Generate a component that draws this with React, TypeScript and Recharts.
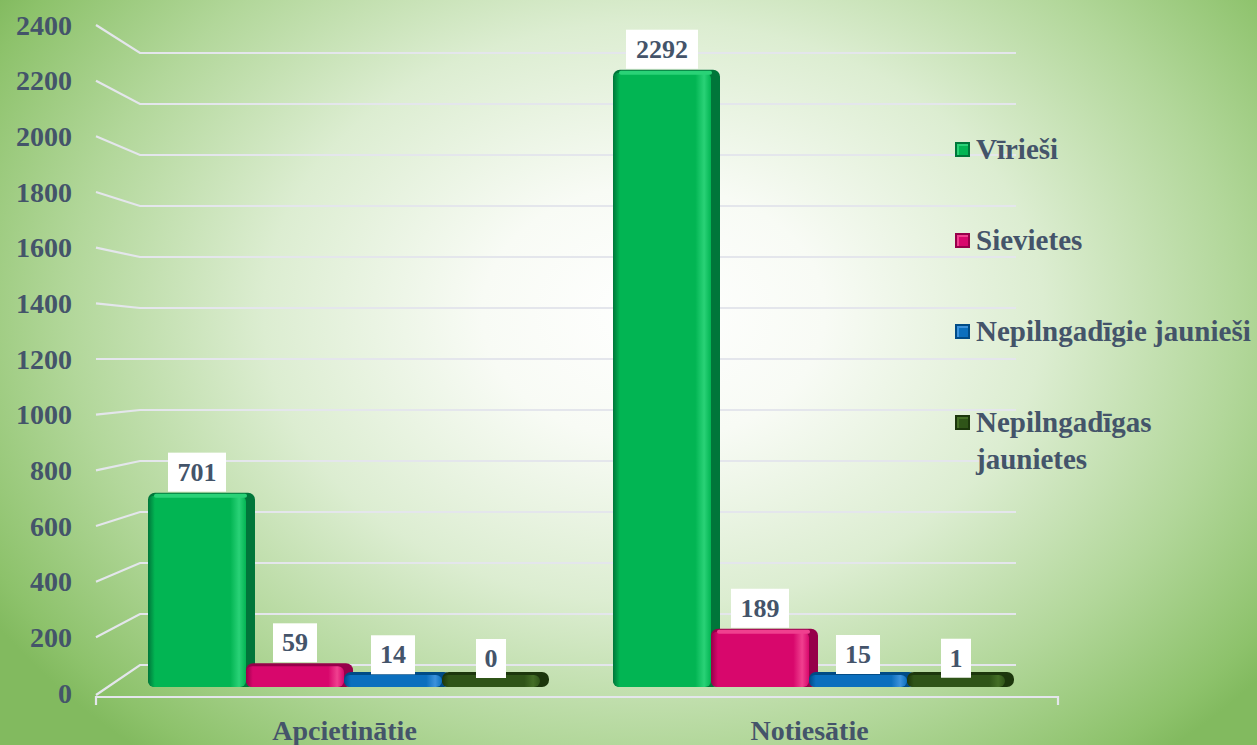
import React from "react";
import { Bar, BarChart, CartesianGrid, LabelList, XAxis, YAxis } from "recharts";

const categories = ["Apcietinātie", "Notiesātie"];
const virieshi = [701, 2292];
const sievietes = [59, 189];
const jaunieshi = [14, 15];
const jaunietes = [0, 1];
const yTicks = [0, 200, 400, 600, 800, 1000, 1200, 1400, 1600, 1800, 2000, 2200, 2400];

const series = [
  { key: "v", name: "Vīrieši", values: virieshi, front: "#02B553", light: "#2AD277", dark: "#00763A" },
  { key: "s", name: "Sievietes", values: sievietes, front: "#D8076C", light: "#F0408F", dark: "#96004A" },
  { key: "j", name: "Nepilngadīgie jaunieši", values: jaunieshi, front: "#0B6FBE", light: "#3C92DC", dark: "#004B86" },
  { key: "n", name: "Nepilngadīgas jaunietes", values: jaunietes, front: "#2F5418", light: "#446E26", dark: "#1C360C" },
];

const data = categories.map((name, i) => {
  const row: any = { name };
  series.forEach((s) => (row[s.key] = s.values[i]));
  return row;
});

// layout of the fake 3d frame
const PLOT_TOP = 49;
const PLOT_BOTTOM = 687;
const BACK_LEFT = 140;
const BACK_RIGHT = 1016;
const BACK_TOP = 53;
const BACK_BOTTOM = 665;
const FRONT_LEFT = 96;
const FRONT_RIGHT = 1058;
const LABEL_TOP = 25;
const LABEL_BOTTOM = 693;

const TEXT = "#44546A";
const FONT = "'Liberation Serif', 'Times New Roman', serif";
const GRID = "#E4E6EC";

const frac = (y: number) => (PLOT_BOTTOM - y) / (PLOT_BOTTOM - PLOT_TOP);

const gridLine = (p: any) => {
  const f = frac(p.y1);
  const by = BACK_BOTTOM - f * (BACK_BOTTOM - BACK_TOP);
  const ly = LABEL_BOTTOM - f * (LABEL_BOTTOM - LABEL_TOP);
  const floor = f < 0.001;
  return (
    <g key={`grid-${p.index}-${p.y1}`}>
      <polyline
        points={`${FRONT_LEFT},${floor ? 695 : ly} ${BACK_LEFT},${by} ${BACK_RIGHT},${by}`}
        fill="none"
        stroke={GRID}
        strokeWidth={2.2}
      />
      {floor && (
        <polyline
          points={`${FRONT_LEFT},705 ${FRONT_LEFT},697 ${FRONT_RIGHT},697 ${FRONT_RIGHT},705`}
          fill="none"
          stroke={GRID}
          strokeWidth={2.2}
        />
      )}
    </g>
  );
};

const YTick = (p: any) => {
  const ly = LABEL_BOTTOM - frac(p.y) * (LABEL_BOTTOM - LABEL_TOP);
  return (
    <text x={72} y={ly} textAnchor="end" dominantBaseline="central" fill={TEXT} fontFamily={FONT} fontWeight="bold" fontSize={28}>
      {p.payload.value}
    </text>
  );
};

const XTick = (p: any) => (
  <text x={p.x} y={p.y + 53} textAnchor="middle" fill={TEXT} fontFamily={FONT} fontWeight="bold" fontSize={28}>
    {p.payload.value}
  </text>
);

function Box3D(props: any) {
  const { x, y, width, height, s } = props;
  if (x == null || y == null) return null;
  const base = y + height;
  const h = Math.max(height + 8, 15);
  const top = base - h;
  const side = 9;
  return (
    <g>
      <rect x={x} y={top} width={width + side} height={h} rx={7} fill={s.dark} />
      <rect x={x} y={top + 3} width={width} height={h - 3} rx={6} fill={`url(#front-${s.key})`} />
      {height > 30 && <rect x={x + 6} y={top + 1} width={width + side - 14} height={4} rx={2} fill={s.light} />}
    </g>
  );
}

function ValueBox(props: any) {
  const { x, y, width, value } = props;
  const text = String(value);
  const w = text.length * 14 + 16;
  const cx = x + width / 2;
  const bottom = y - 9;
  return (
    <g>
      <rect x={cx - w / 2} y={bottom - 39} width={w} height={39} fill="#FFFFFF" />
      <text x={cx} y={bottom - 11} textAnchor="middle" fill={TEXT} fontFamily={FONT} fontWeight="bold" fontSize={26}>
        {text}
      </text>
    </g>
  );
}

export default function App() {
  return (
    <div
      style={{
        position: "absolute",
        left: 0,
        top: 0,
        width: 1257,
        height: 745,
        overflow: "hidden",
        background:
          "radial-gradient(ellipse 62% 78% at 52% 42%, #FFFFFF 0%, #F8FBF5 22%, #DCEDD1 50%, #B2D79A 75%, #8DC26B 95%, #82BA5F 100%)",
      }}
    >
      <BarChart
        width={1257}
        height={745}
        data={data}
        margin={{ top: PLOT_TOP, right: 215, bottom: 0, left: 0 }}
        barCategoryGap={36}
        barGap={0}
      >
        <defs>
          {series.map((s) => (
            <linearGradient key={s.key} id={`front-${s.key}`} x1="0" y1="0" x2="1" y2="0">
              <stop offset="0%" stopColor={s.dark} />
              <stop offset="7%" stopColor={s.front} />
              <stop offset="84%" stopColor={s.front} />
              <stop offset="93%" stopColor={s.light} />
              <stop offset="100%" stopColor={s.front} />
            </linearGradient>
          ))}
        </defs>
        <CartesianGrid horizontal={gridLine} vertical={false} />
        <XAxis dataKey="name" axisLine={false} tickLine={false} tickSize={0} tickMargin={0} height={58} tick={<XTick />} />
        <YAxis
          domain={[0, 2400]}
          ticks={yTicks}
          interval={0}
          width={112}
          axisLine={false}
          tickLine={false}
          tick={<YTick />}
        />
        {series.map((s) => (
          <Bar key={s.key} dataKey={s.key} name={s.name} fill={s.front} isAnimationActive={false} shape={(p: any) => <Box3D {...p} s={s} />}>
            <LabelList dataKey={s.key} content={<ValueBox />} />
          </Bar>
        ))}
      </BarChart>
      <div
        style={{
          position: "absolute",
          left: 955,
          top: 131,
          display: "flex",
          flexDirection: "column",
          gap: 54,
          fontFamily: FONT,
          fontWeight: "bold",
          fontSize: 29,
          lineHeight: "37px",
          color: TEXT,
        }}
      >
        {series.map((s, i) => (
          <div key={s.key} style={{ display: "flex", alignItems: "flex-start" }}>
            <span
              style={{
                display: "inline-block",
                width: 15,
                height: 15,
                marginTop: 11,
                marginRight: 6,
                boxSizing: "border-box",
                background: s.front,
                border: `2px solid ${s.dark}`,
                boxShadow: `inset 2px 2px 0 ${s.light}`,
                flexShrink: 0,
              }}
            />
            <span style={i === series.length - 1 ? { maxWidth: 200 } : { whiteSpace: "nowrap" }}>{s.name}</span>
          </div>
        ))}
      </div>
    </div>
  );
}
